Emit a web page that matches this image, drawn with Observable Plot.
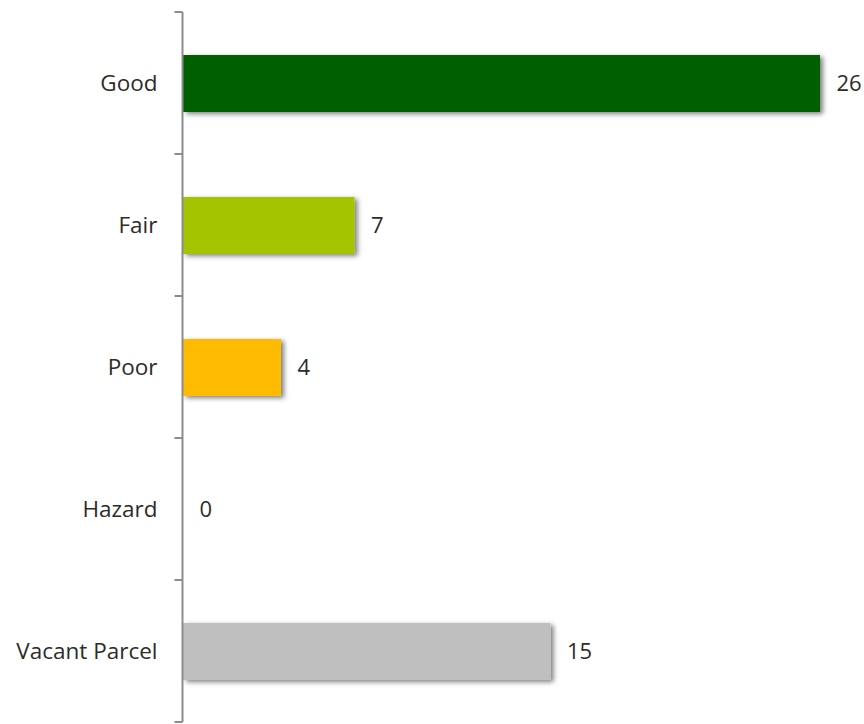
<!DOCTYPE html>
<html>
<head>
<meta charset="utf-8">
<script src="https://cdn.jsdelivr.net/npm/d3@7"></script>
<script src="https://cdn.jsdelivr.net/npm/@observablehq/plot@0.6"></script>
<style>
  html, body { margin: 0; padding: 0; background: #fff; }
  #chart svg { display: block; }
</style>
</head>
<body>
<div id="chart"></div>
<script>
const categories = ["Good", "Fair", "Poor", "Hazard", "Vacant Parcel"];
const counts = [26, 7, 4, 0, 15];
const barColors = ["#006100", "#a5c400", "#ffbb00", "#d9d9d9", "#bfbfbf"];

const data = categories.map((c, i) => ({category: c, count: counts[i], color: barColors[i]}));

const W = 864, H = 724;
const mLeft = 183, mTop = 12, mBottom = 2;
const xMax = 27;
const mRight = W - mLeft - xMax * 24.5;

// custom axis: vertical line + ticks at band boundaries
function bandAxis(index, scales, values, dims) {
  const g = d3.create("svg:g");
  const x0 = dims.marginLeft - 0.5;
  const top = dims.marginTop, bottom = dims.height - dims.marginBottom;
  g.append("line")
    .attr("x1", x0).attr("x2", x0)
    .attr("y1", top).attr("y2", bottom)
    .attr("stroke", "#8c8c8c").attr("stroke-width", 2);
  const bounds = d3.range(categories.length + 1).map(i => top + i * (bottom - top) / categories.length);
  g.selectAll("line.t").data(bounds).join("line")
    .attr("x1", x0 - 8).attr("x2", x0)
    .attr("y1", d => d).attr("y2", d => d)
    .attr("stroke", "#8c8c8c").attr("stroke-width", 2);
  return g.node();
}

const chart = Plot.plot({
  width: W,
  height: H,
  marginLeft: mLeft,
  marginRight: mRight,
  marginTop: mTop,
  marginBottom: mBottom,
  style: {fontFamily: "'Open Sans', sans-serif", fontSize: "22.5px", color: "#2e2b28"},
  x: {domain: [0, xMax], axis: null},
  y: {domain: categories, paddingInner: 0.6, paddingOuter: 0.3, axis: "left", label: null, tickSize: 0, tickPadding: 26},
  marks: [
    Plot.barX(data, {y: "category", x: "count", fill: "color", className: "bars"}),
    Plot.text(data, {y: "category", x: "count", text: d => String(d.count), textAnchor: "start", dx: 16, fill: "#2e2b28", fontSize: 22}),
    bandAxis
  ]
});

// drop shadow on bars
const svg = d3.select(chart);
const defs = svg.insert("defs", ":first-child");
const f = defs.append("filter").attr("id", "shadow").attr("x", "-5%").attr("y", "-20%").attr("width", "115%").attr("height", "150%");
f.append("feDropShadow").attr("dx", 3).attr("dy", 2).attr("stdDeviation", 2.5).attr("flood-color", "#000").attr("flood-opacity", 0.5);
svg.selectAll(".bars rect").attr("filter", "url(#shadow)");

document.getElementById("chart").appendChild(chart);
</script>
</body>
</html>
